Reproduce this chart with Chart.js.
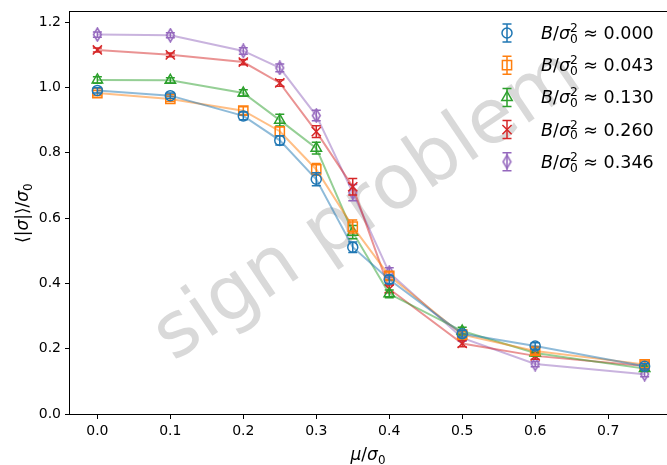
<!DOCTYPE html>
<html>
<head>
<meta charset="utf-8">
<script src="https://cdn.jsdelivr.net/npm/chart.js@4.4.0/dist/chart.umd.min.js"></script>
<style>
  html, body { margin: 0; padding: 0; overflow: hidden; background: #fff; }
  #wrap { width: 680px; height: 465px; }
</style>
</head>
<body>
<div id="wrap"><canvas id="c" width="680" height="465"></canvas></div>
<script>
// data
const mu = [0.0, 0.1, 0.2, 0.25, 0.3, 0.35, 0.4, 0.5, 0.6, 0.75];
const bLabels = ['0.000', '0.043', '0.130', '0.260', '0.346'];

const sig000 = [0.991, 0.975, 0.913, 0.838, 0.719, 0.511, 0.412, 0.246, 0.208, 0.146];
const sig043 = [0.983, 0.965, 0.929, 0.866, 0.749, 0.574, 0.423, 0.243, 0.193, 0.152];
const sig130 = [1.023, 1.022, 0.983, 0.900, 0.814, 0.557, 0.368, 0.254, 0.187, 0.139];
const sig260 = [1.115, 1.100, 1.078, 1.014, 0.865, 0.696, 0.383, 0.216, 0.178, 0.147];
const sig346 = [1.162, 1.160, 1.112, 1.060, 0.914, 0.678, 0.433, 0.233, 0.153, 0.122];

const err000 = [0.008, 0.008, 0.012, 0.014, 0.020, 0.016, 0.012, 0.010, 0.010, 0.008];
const err043 = [0.008, 0.008, 0.012, 0.014, 0.018, 0.020, 0.012, 0.010, 0.010, 0.010];
const err130 = [0.010, 0.008, 0.010, 0.018, 0.018, 0.020, 0.012, 0.012, 0.010, 0.008];
const err260 = [0.006, 0.006, 0.008, 0.010, 0.018, 0.025, 0.012, 0.010, 0.010, 0.008];
const err346 = [0.008, 0.008, 0.010, 0.012, 0.016, 0.025, 0.015, 0.010, 0.008, 0.008];

const xTicks = [0.0, 0.1, 0.2, 0.3, 0.4, 0.5, 0.6, 0.7];
const yTicks = [0.0, 0.2, 0.4, 0.6, 0.8, 1.0, 1.2];

const series = [sig000, sig043, sig130, sig260, sig346];
const errs = [err000, err043, err130, err260, err346];

const FONT = "'DejaVu Sans', sans-serif";
const colors = ['#1f77b4', '#ff7f0e', '#2ca02c', '#d62728', '#9467bd'];
const faded = ['rgba(31,119,180,0.5)', 'rgba(255,127,14,0.5)', 'rgba(44,160,44,0.5)',
               'rgba(214,39,40,0.5)', 'rgba(148,103,189,0.5)'];

function thinDiamond(color) {
  const c = document.createElement('canvas');
  c.width = 11; c.height = 15;
  const g = c.getContext('2d');
  g.strokeStyle = color; g.lineWidth = 1.5;
  g.beginPath();
  g.moveTo(5.5, 1); g.lineTo(9.4, 7.5); g.lineTo(5.5, 14); g.lineTo(1.6, 7.5);
  g.closePath(); g.stroke();
  return c;
}

const markers = [
  { pointStyle: 'circle', radius: 5 },
  { pointStyle: 'rect', radius: 6.5 },
  { pointStyle: 'triangle', radius: 6 },
  { pointStyle: 'crossRot', radius: 6.5 },
  { pointStyle: thinDiamond(colors[4]), radius: 6 }
];

// small mathtext-ish helper: italic letters, stacked sub/superscripts
function mathText(ctx, parts, size, x0, y0, draw) {
  let x = x0;
  for (const p of parts) {
    if (p.sub !== undefined || p.sup !== undefined) {
      ctx.font = (size * 0.7) + 'px ' + FONT;
      let w = 0;
      if (p.sup) { w = Math.max(w, ctx.measureText(p.sup).width); if (draw) ctx.fillText(p.sup, x, y0 - size * 0.4); }
      if (p.sub) { w = Math.max(w, ctx.measureText(p.sub).width); if (draw) ctx.fillText(p.sub, x, y0 + size * 0.22); }
      x += w;
    } else {
      ctx.font = (p.it ? 'italic ' : '') + size + 'px ' + FONT;
      if (draw) ctx.fillText(p.t, x, y0);
      x += ctx.measureText(p.t).width;
    }
  }
  return x - x0;
}

const watermark = {
  id: 'watermark',
  beforeDatasetsDraw(chart) {
    const ctx = chart.ctx;
    ctx.save();
    ctx.translate(368, 207);
    ctx.rotate(-34 * Math.PI / 180);
    ctx.fillStyle = 'rgba(128,128,128,0.3)';
    ctx.font = '76px ' + FONT;
    ctx.textAlign = 'center';
    ctx.textBaseline = 'middle';
    ctx.fillText('sign problem', 0, 0);
    ctx.restore();
  }
};

const errorBars = {
  id: 'errorBars',
  afterDatasetDraw(chart, args) {
    const i = args.index;
    const ys = chart.scales.y;
    const ctx = chart.ctx;
    ctx.save();
    ctx.strokeStyle = colors[i];
    ctx.lineWidth = 1.5;
    args.meta.data.forEach((pt, j) => {
      const top = ys.getPixelForValue(series[i][j] + errs[i][j]);
      const bot = ys.getPixelForValue(series[i][j] - errs[i][j]);
      ctx.beginPath();
      ctx.moveTo(pt.x, top); ctx.lineTo(pt.x, bot);
      ctx.moveTo(pt.x - 4.5, top); ctx.lineTo(pt.x + 4.5, top);
      ctx.moveTo(pt.x - 4.5, bot); ctx.lineTo(pt.x + 4.5, bot);
      ctx.stroke();
    });
    ctx.restore();
  }
};

const frameAndText = {
  id: 'frameAndText',
  afterDraw(chart) {
    const ctx = chart.ctx;
    const a = chart.chartArea;
    ctx.save();
    ctx.strokeStyle = '#000';
    ctx.lineWidth = 1;
    ctx.strokeRect(Math.round(a.left) - 0.5, Math.round(a.top) - 0.5,
                   Math.round(a.right - a.left) + 1, Math.round(a.bottom - a.top) + 1);

    ctx.fillStyle = '#000';
    ctx.textAlign = 'left';
    ctx.textBaseline = 'alphabetic';

    // x title
    const xParts = [{ t: 'μ', it: 1 }, { t: '/' }, { t: 'σ', it: 1 }, { sub: '0' }];
    const xw = mathText(ctx, xParts, 17, 0, 0, false);
    mathText(ctx, xParts, 17, (a.left + a.right) / 2 - xw / 2 - 3, 460, true);

    // y title
    const yParts = [{ t: '⟨|' }, { t: 'σ', it: 1 }, { t: '|⟩/' }, { t: 'σ', it: 1 }, { sub: '0' }];
    const yw = mathText(ctx, yParts, 17, 0, 0, false);
    ctx.save();
    ctx.translate(28, (a.top + a.bottom) / 2);
    ctx.rotate(-Math.PI / 2);
    mathText(ctx, yParts, 17, -yw / 2, 0, true);
    ctx.restore();

    // legend
    for (let i = 0; i < bLabels.length; i++) {
      const cy = 33 + i * 32.2;
      const mx = 507;
      ctx.strokeStyle = colors[i];
      ctx.fillStyle = 'rgba(0,0,0,0)';
      ctx.lineWidth = 1.5;
      ctx.beginPath();
      ctx.moveTo(mx, cy - 9); ctx.lineTo(mx, cy + 9);
      ctx.moveTo(mx - 4.5, cy - 9); ctx.lineTo(mx + 4.5, cy - 9);
      ctx.moveTo(mx - 4.5, cy + 9); ctx.lineTo(mx + 4.5, cy + 9);
      ctx.stroke();
      Chart.helpers.drawPoint(ctx, {
        pointStyle: markers[i].pointStyle, radius: markers[i].radius,
        rotation: 0, borderWidth: 1.5
      }, mx, cy);
      ctx.fillStyle = '#000';
      const parts = [{ t: 'B', it: 1 }, { t: '/' }, { t: 'σ', it: 1 }, { sup: '2', sub: '0' },
                     { t: ' ≈ ' }, { t: bLabels[i] }];
      mathText(ctx, parts, 17.5, 541, cy + 6, true);
    }
    ctx.restore();
  }
};

const datasets = series.map((vals, i) => ({
  data: mu.map((x, j) => ({ x: x, y: vals[j] })),
  borderColor: faded[i],
  borderWidth: 2,
  pointStyle: markers[i].pointStyle,
  pointRadius: markers[i].radius,
  pointBorderColor: colors[i],
  pointBackgroundColor: 'rgba(0,0,0,0)',
  pointBorderWidth: 1.5,
  tension: 0,
  fill: false
}));

new Chart(document.getElementById('c'), {
  type: 'line',
  data: { datasets: datasets },
  plugins: [watermark, errorBars, frameAndText],
  options: {
    responsive: false,
    animation: false,
    events: [],
    layout: { padding: { top: 5, right: 7, left: 0, bottom: 0 } },
    plugins: { legend: { display: false }, tooltip: { enabled: false } },
    scales: {
      x: {
        type: 'linear',
        min: -0.0375, max: 0.7875,
        afterFit(s) { s.height = 51; },
        afterBuildTicks(s) { s.ticks = xTicks.map(v => ({ value: v })); },
        border: { display: false },
        grid: { drawOnChartArea: false, drawTicks: true, tickLength: 5, color: '#000', lineWidth: 1 },
        ticks: {
          color: '#000', padding: 4, maxRotation: 0,
          font: { family: FONT, size: 14 },
          callback: v => v.toFixed(1)
        }
      },
      y: {
        type: 'linear',
        min: 0, max: 1.23,
        afterFit(s) { s.width = 70; },
        afterBuildTicks(s) { s.ticks = yTicks.map(v => ({ value: v })); },
        border: { display: false },
        grid: { drawOnChartArea: false, drawTicks: true, tickLength: 5, color: '#000', lineWidth: 1 },
        ticks: {
          color: '#000', padding: 4,
          font: { family: FONT, size: 14 },
          callback: v => v.toFixed(1)
        }
      }
    }
  }
});
</script>
</body>
</html>
